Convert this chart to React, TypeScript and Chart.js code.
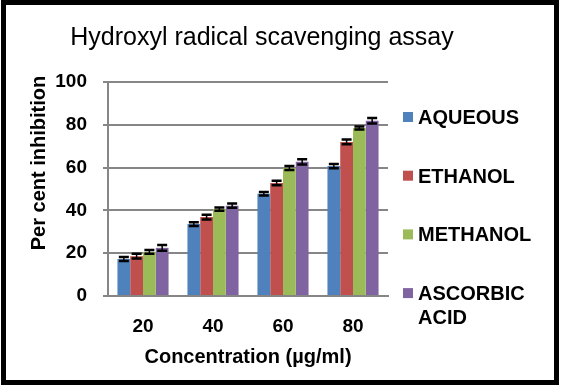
import React, { useEffect, useRef } from 'react';
import { Chart, registerables } from 'chart.js';

Chart.register(...registerables);

const categories = ['20', '40', '60', '80'];
const seriesNames = ['AQUEOUS', 'ETHANOL', 'METHANOL', 'ASCORBIC ACID'];
const aqueous = [17.3, 33.6, 47.8, 60.7];
const ethanol = [18.6, 36.9, 52.8, 72.0];
const methanol = [20.6, 40.6, 59.8, 78.5];
const ascorbic = [22.5, 42.2, 62.7, 81.9];
const aqueousErr = [0.9, 0.9, 0.8, 1.0];
const ethanolErr = [1.1, 1.1, 1.0, 1.1];
const methanolErr = [0.9, 0.8, 0.9, 0.7];
const ascorbicErr = [1.3, 1.0, 1.2, 1.3];
const yTicks = [0, 20, 40, 60, 80, 100];
const colors = ['#4F81BD', '#C0504D', '#9BBB59', '#8064A2'];
const chartTitle = 'Hydroxyl radical scavenging assay';
const xTitle = 'Concentration (µg/ml)';
const yTitle = 'Per cent inhibition';

const FONT = '"Liberation Sans", Arial, sans-serif';
const GRID = '#868686';

const errorBarPlugin = {
  id: 'errorBars',
  afterDatasetsDraw(chart: any) {
    const ctx = chart.ctx;
    const ys = chart.scales.y;
    chart.data.datasets.forEach((ds: any, i: number) => {
      const meta = chart.getDatasetMeta(i);
      meta.data.forEach((bar: any, j: number) => {
        const v = ds.data[j];
        const e = ds.errors[j];
        const top = ys.getPixelForValue(v + e);
        const bot = ys.getPixelForValue(v - e);
        const x = bar.x;
        ctx.save();
        ctx.strokeStyle = '#000';
        ctx.lineWidth = 1.5;
        ctx.beginPath();
        ctx.moveTo(x, top);
        ctx.lineTo(x, bot);
        ctx.stroke();
        ctx.lineWidth = 2.5;
        ctx.beginPath();
        ctx.moveTo(x - 5, top);
        ctx.lineTo(x + 5, top);
        ctx.moveTo(x - 5, bot);
        ctx.lineTo(x + 5, bot);
        ctx.stroke();
        ctx.restore();
      });
    });
  },
};

const textPlugin = {
  id: 'texts',
  afterDraw(chart: any) {
    const ctx = chart.ctx;
    const area = chart.chartArea;
    ctx.save();
    ctx.fillStyle = '#000';
    // main title
    ctx.font = `25px ${FONT}`;
    ctx.textAlign = 'center';
    ctx.textBaseline = 'alphabetic';
    ctx.fillText(chartTitle, 262, 45);
    // y title
    ctx.save();
    ctx.font = `bold 20px ${FONT}`;
    ctx.translate(45, 163);
    ctx.rotate(-Math.PI / 2);
    ctx.textAlign = 'center';
    ctx.fillText(yTitle, 0, 0);
    ctx.restore();
    // legend
    ctx.font = `bold 20px ${FONT}`;
    ctx.textAlign = 'left';
    const legendX = area.right + 15;
    const maxW = 130;
    chart.data.datasets.forEach((ds: any, i: number) => {
      const baseY = 124 + i * 58.7;
      ctx.fillStyle = ds.backgroundColor;
      ctx.fillRect(legendX, baseY - 12, 10, 10);
      ctx.fillStyle = '#000';
      const words = String(ds.label).split(' ');
      const lines: string[] = [];
      let cur = '';
      words.forEach((w) => {
        const test = cur ? cur + ' ' + w : w;
        if (cur && ctx.measureText(test).width > maxW) {
          lines.push(cur);
          cur = w;
        } else cur = test;
      });
      if (cur) lines.push(cur);
      lines.forEach((ln, k) => ctx.fillText(ln, legendX + 15, baseY + k * 24));
    });
    ctx.restore();
  },
};

export default function App() {
  const ref = useRef<HTMLCanvasElement | null>(null);
  useEffect(() => {
    if (!ref.current) return;
    const series = [aqueous, ethanol, methanol, ascorbic];
    const errs = [aqueousErr, ethanolErr, methanolErr, ascorbicErr];
    const chart = new Chart(ref.current, {
      type: 'bar',
      data: {
        labels: categories,
        datasets: series.map((d, i) => ({
          label: seriesNames[i],
          data: d,
          errors: errs[i],
          backgroundColor: colors[i],
          borderWidth: 0,
          barPercentage: 1,
          categoryPercentage: 0.73,
        })) as any,
      },
      options: {
        animation: false,
        responsive: false,
        devicePixelRatio: 1,
        layout: { padding: { top: 82, right: 173, left: 0, bottom: 0 } },
        plugins: { legend: { display: false }, tooltip: { enabled: false }, title: { display: false } },
        scales: {
          x: {
            offset: true,
            grid: { display: false, drawTicks: false },
            border: { display: true, color: GRID, width: 2 },
            ticks: { font: { family: FONT, size: 19, weight: 'bold' }, color: '#000', padding: 19 },
            title: {
              display: true,
              text: xTitle,
              color: '#000',
              font: { family: FONT, size: 20, weight: 'bold' },
              padding: { top: 0, bottom: 17 },
            },
            afterFit: (s: any) => {
              s.height = 90;
            },
          },
          y: {
            min: 0,
            max: 100,
            afterBuildTicks: (s: any) => {
              s.ticks = yTicks.map((v) => ({ value: v }));
            },
            grid: { color: GRID, lineWidth: 2, tickLength: 5, drawTicks: true },
            border: { display: true, color: GRID, width: 2 },
            ticks: { font: { family: FONT, size: 19, weight: 'bold' }, color: '#000', padding: 16 },
            afterFit: (s: any) => {
              s.width = 108;
            },
          },
        },
      } as any,
      plugins: [errorBarPlugin, textPlugin],
    });
    return () => chart.destroy();
  }, []);
  return (
    <div style={{ position: 'absolute', left: 0, top: 0, width: 561, height: 386, background: '#fff' }}>
      <canvas ref={ref} width={561} height={386} style={{ position: 'absolute', left: 0, top: 0 }} />
      <div
        style={{
          position: 'absolute',
          left: 1,
          top: 0,
          width: 558,
          height: 385,
          border: '5px solid #000',
          boxSizing: 'border-box',
          pointerEvents: 'none',
        }}
      />
    </div>
  );
}
